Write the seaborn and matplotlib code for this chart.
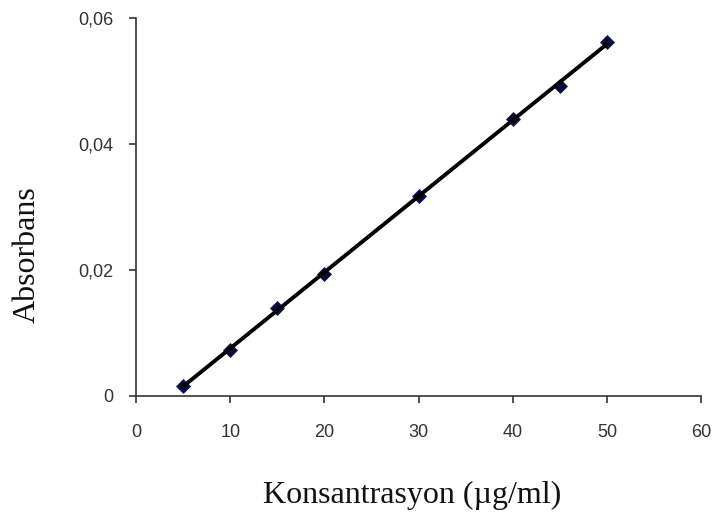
import numpy as np
import pandas as pd
import seaborn as sns
import matplotlib
matplotlib.use("Agg")
import matplotlib.pyplot as plt
from matplotlib.ticker import FuncFormatter, MultipleLocator

concentration = [5, 10, 15, 20, 30, 40, 45, 50]
absorbance = [0.00163, 0.0073, 0.0140, 0.0193, 0.0317, 0.0440, 0.0492, 0.0562]
x_label = "Konsantrasyon (µg/ml)"
y_label = "Absorbans"

df = pd.DataFrame({"x": concentration, "y": absorbance})

sns.set_style("white")
plt.rcParams["font.family"] = ["Liberation Sans", "DejaVu Sans"]

fig = plt.figure(figsize=(7.14, 5.12), dpi=100)
ax = fig.add_axes([0.1905, 0.2266, 0.7915, 0.7388])

sns.regplot(data=df, x="x", y="y", ax=ax, ci=None, truncate=True,
            marker="D",
            scatter_kws={"s": 50, "color": "#0a0a3a", "edgecolors": "#1a1a60",
                         "linewidths": 0.6, "alpha": 1, "zorder": 2},
            line_kws={"color": "black", "linewidth": 2.8, "zorder": 3})

ax.set_xlim(0, 60)
ax.set_ylim(0, 0.06)
ax.xaxis.set_major_locator(MultipleLocator(10))
ax.yaxis.set_major_locator(MultipleLocator(0.02))

def comma_fmt(v, pos):
    if abs(v) < 1e-12:
        return "0"
    return f"{v:.2f}".replace(".", ",")

ax.yaxis.set_major_formatter(FuncFormatter(comma_fmt))
ax.xaxis.set_major_formatter(FuncFormatter(lambda v, p: f"{int(round(v))}"))

for s in ["top", "right"]:
    ax.spines[s].set_visible(False)
for s in ["left", "bottom"]:
    ax.spines[s].set_color("#333333")
    ax.spines[s].set_linewidth(1.2)

ax.tick_params(axis="both", direction="out", length=5, width=1.2, color="#333333",
               labelsize=13, labelcolor="#333333")
ax.tick_params(axis="y", left=True, pad=11)
ax.tick_params(axis="x", bottom=True, pad=15)

ax.set_xlabel(x_label, family=["Liberation Serif", "DejaVu Serif"], fontsize=23,
              color="#111111")
ax.set_ylabel(y_label, family=["Liberation Serif", "DejaVu Serif"], fontsize=23,
              color="#111111")
ax.xaxis.set_label_coords(0.488, -0.2235)
ax.yaxis.set_label_coords(-0.166, 0.373)

fig.savefig("out.png", dpi=100)
